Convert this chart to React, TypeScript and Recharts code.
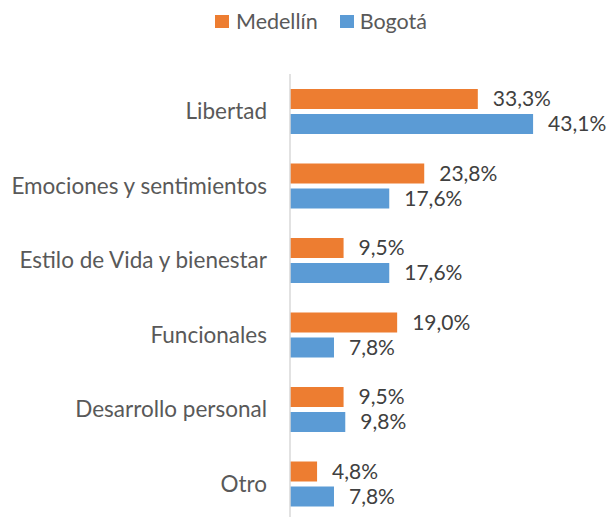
import React from 'react';
import { BarChart, Bar, XAxis, YAxis, LabelList } from 'recharts';

const categories = [
  'Libertad',
  'Emociones y sentimientos',
  'Estilo de Vida y bienestar',
  'Funcionales',
  'Desarrollo personal',
  'Otro',
];
const medellin = [33.3, 23.8, 9.5, 19.0, 9.5, 4.8];
const bogota = [43.1, 17.6, 17.6, 7.8, 9.8, 7.8];

const data = categories.map((name, i) => ({ name, medellin: medellin[i], bogota: bogota[i] }));

const FONT = 'Lato, "Open Sans", sans-serif';
const ORANGE = '#ED7D31';
const BLUE = '#5B9BD5';

const fmt = (v: any) => `${Number(v).toFixed(1).replace('.', ',')}%`;

const LegendBox = () => (
  <div style={{
    position: 'absolute', left: 215, top: 8, display: 'flex', alignItems: 'center',
    fontFamily: FONT, fontSize: 21.5, color: '#595959',
  }}>
    <span style={{ width: 14, height: 13, background: ORANGE, display: 'inline-block', marginRight: 7 }} />
    <span style={{ marginRight: 22 }}>Medellín</span>
    <span style={{ width: 14, height: 13, background: BLUE, display: 'inline-block', marginRight: 6 }} />
    <span>Bogotá</span>
  </div>
);

export default function App() {
  return (
    <div style={{ position: 'absolute', left: 0, top: 0, width: 609, height: 530, background: '#fff' }}>
      <LegendBox />
      <BarChart
        width={609}
        height={530}
        data={data}
        layout="vertical"
        margin={{ top: 74, right: 37, bottom: 9, left: 0 }}
        barSize={20}
        barGap={5}
      >
        <XAxis type="number" domain={[0, 50]} hide />
        <YAxis
          type="category"
          dataKey="name"
          width={290}
          tickLine={false}
          tickSize={0}
          tickMargin={23}
          axisLine={{ stroke: '#d9d9d9', strokeWidth: 1.5 }}
          tick={{ fill: '#595959', fontSize: 22.5, fontFamily: FONT }}
          interval={0}
        />
        <Bar dataKey="medellin" fill={ORANGE} isAnimationActive={false}>
          <LabelList dataKey="medellin" position="right" offset={15} formatter={fmt}
            style={{ fill: '#404040', fontSize: 21, fontFamily: FONT }} />
        </Bar>
        <Bar dataKey="bogota" fill={BLUE} isAnimationActive={false}>
          <LabelList dataKey="bogota" position="right" offset={15} formatter={fmt}
            style={{ fill: '#404040', fontSize: 21, fontFamily: FONT }} />
        </Bar>
      </BarChart>
    </div>
  );
}
